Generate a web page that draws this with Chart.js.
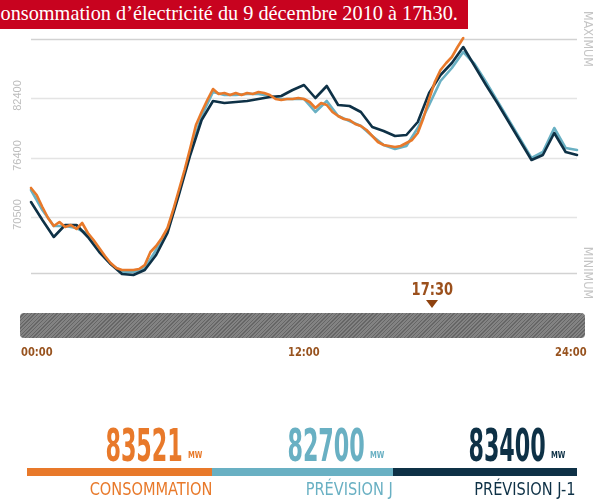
<!DOCTYPE html>
<html>
<head>
<meta charset="utf-8">
<script src="https://cdn.jsdelivr.net/npm/chart.js@4.4.0/dist/chart.umd.min.js"></script>
<style>
  body { margin: 0; width: 595px; height: 501px; overflow: hidden; background: #fff; position: relative; }
  #chart { position: absolute; left: 0; top: 0; }
  .titre { position: absolute; left: 0; top: 0; width: 468px; height: 29px; background: #c8031f; overflow: hidden; }
  .titre span { position: absolute; left: -13px; top: 2px; font: 20.3px "Liberation Serif", serif; color: #fff; white-space: nowrap; }
  .cond { font-family: "Liberation Sans Narrow", "DejaVu Sans Condensed", sans-serif; }
  .repere { position: absolute; left: 408px; top: 279px; width: 48px; text-align: center; font-weight: bold; font-size: 17px; color: #9b501c; transform: scaleX(0.85); }
  .fleche { position: absolute; left: 426px; top: 300px; width: 0; height: 0; border-left: 6px solid transparent; border-right: 6px solid transparent; border-top: 8px solid #8e420f; }
  .barre { position: absolute; left: 20px; top: 313px; width: 565px; height: 25px; border-radius: 4px;
           background: repeating-linear-gradient(135deg, #666 0 1px, #838383 1px 2.6px); }
  .heure { position: absolute; top: 345px; font-weight: bold; font-size: 12px; color: #98531f; transform: scaleX(0.92); transform-origin: left top; }
  .val { position: absolute; top: 423px; font-weight: bold; font-size: 45px; line-height: 45px; transform: scaleX(0.55); transform-origin: right top; white-space: nowrap; }
  .mw { position: absolute; top: 451px; font-weight: bold; font-size: 9px; line-height: 9px; transform: scaleX(0.85); transform-origin: left top; }
  .trait { position: absolute; top: 468px; height: 8px; }
  .lib { position: absolute; top: 480px; font-size: 18px; line-height: 18px; transform: scaleX(0.9); transform-origin: right top; white-space: nowrap; }
</style>
</head>
<body>
<canvas id="chart" width="595" height="501"></canvas>
<div class="titre"><span>Consommation d’électricité du 9 décembre 2010 à 17h30.</span></div>
<div class="repere cond">17:30</div>
<div class="fleche"></div>
<div class="barre"></div>
<div class="heure cond" style="left:21px">00:00</div>
<div class="heure cond" style="left:288px">12:00</div>
<div class="heure cond" style="left:555px">24:00</div>

<div class="val cond" style="right:412px;color:#e8792a">83521</div>
<div class="mw cond" style="left:188px;color:#e8792a">MW</div>
<div class="val cond" style="right:230px;color:#69b0c3">82700</div>
<div class="mw cond" style="left:370px;color:#69b0c3">MW</div>
<div class="val cond" style="right:49px;color:#0e3146">83400</div>
<div class="mw cond" style="left:551px;color:#0e3146">MW</div>
<div class="trait" style="left:27px;width:185px;background:#e8792a"></div>
<div class="trait" style="left:212px;width:181px;background:#69b0c3"></div>
<div class="trait" style="left:393px;width:184px;background:#0e3146"></div>
<div class="lib cond" style="right:383px;color:#e8792a">CONSOMMATION</div>
<div class="lib cond" style="right:202px;color:#69b0c3">PRÉVISION J</div>
<div class="lib cond" style="right:20px;color:#0e3146">PRÉVISION J-1</div>

<script>
// heures (0 = 00:00) des prévisions, pas de 30 min
const heuresPrev = [0, 0.5, 1, 1.5, 2, 2.5, 3, 3.5, 4, 4.5, 5, 5.5, 6, 6.5, 7, 7.5, 8, 8.5, 9, 9.5,
  10, 10.5, 11, 11.5, 12, 12.5, 13, 13.5, 14, 14.5, 15, 15.5, 16, 16.5, 17, 17.5, 18, 18.5, 19, 19.5,
  20, 20.5, 21, 21.5, 22, 22.5, 23, 23.5, 24];

// Prévision J-1 (MW)
const prevJ1 = [72000, 70200, 68500, 69700, 69700, 68500, 67000, 65800, 64800, 64700,
  65200, 66700, 68900, 72700, 76700, 80200, 82100, 81900, 82000, 82100,
  82300, 82500, 82600, 83200, 83700, 82400, 83600, 81700, 81600, 81000,
  79500, 79100, 78600, 78700, 80000, 82900, 84700, 85900, 87500, 85600,
  83700, 81900, 80000, 78100, 76200, 76700, 78900, 77000, 76700];

// Prévision J (MW)
const prevJ = [73200, 71200, 69600, 69600, 69400, 68800, 67200, 65800, 65000, 65000,
  65400, 67200, 69200, 72900, 77000, 80600, 83000, 82700, 82700, 82800,
  82800, 82600, 82300, 82300, 82300, 81000, 82100, 80600, 80100, 79600,
  78600, 77700, 77300, 77600, 79400, 81700, 84100, 85400, 87000, 85800,
  84000, 82100, 80200, 78300, 76400, 77000, 79400, 77400, 77200];

// Consommation réalisée, pas de 15 min
const heuresConso = [0, 0.25, 0.5, 0.75, 1, 1.25, 1.5, 1.75, 2, 2.25, 2.5, 2.75, 3, 3.25, 3.5, 3.75,
  4, 4.25, 4.5, 4.75, 5, 5.25, 5.5, 5.75, 6, 6.25, 6.5, 6.75, 7, 7.25, 7.5, 7.75,
  8, 8.25, 8.5, 8.75, 9, 9.25, 9.5, 9.75, 10, 10.25, 10.5, 10.75, 11, 11.25, 11.5, 11.75,
  12, 12.25, 12.5, 12.75, 13, 13.25, 13.5, 13.75, 14, 14.25, 14.5, 14.75, 15, 15.25, 15.5, 15.75,
  16, 16.25, 16.5, 16.75, 17, 17.25, 17.5, 17.75, 18, 18.25, 18.5, 18.75, 19];
const conso = [73400, 72700, 71500, 70400, 69600, 70000, 69500, 69700, 69300, 69900, 68900, 68200, 67400, 66600, 65900, 65400,
  65200, 65200, 65200, 65300, 65700, 67000, 67600, 68400, 69400, 71200, 73200, 75200, 77400, 79700, 81000, 82200,
  83300, 82800, 82900, 82700, 82900, 82700, 82900, 82800, 83000, 82900, 82700, 82300, 82200, 82300, 82300, 82400,
  82300, 82000, 81400, 81900, 81700, 81000, 80600, 80300, 80200, 79800, 79600, 79200, 78600, 78000, 77700, 77600,
  77500, 77600, 77900, 78200, 78900, 80400, 82300, 84000, 85200, 85900, 86500, 87500, 88400];

// lignes de grille et étiquettes de l'axe vertical
const grilleY = [88300, 82400, 76400, 70500, 64900];
const etiquettesY = ['', '82400', '76400', '70500', ''];

function points(xs, ys) {
  return xs.map((x, i) => ({ x: x, y: ys[i] }));
}

const grillePlugin = {
  id: 'grille',
  beforeDatasetsDraw(chart) {
    const ctx = chart.ctx;
    const area = chart.chartArea;
    const y = chart.scales.y;
    ctx.save();
    grilleY.forEach((v, i) => {
      const py = Math.round(y.getPixelForValue(v)) + 0.5;
      ctx.strokeStyle = (i === 0 || i === grilleY.length - 1) ? '#d2d2d2' : '#e4e4e4';
      ctx.lineWidth = 1.5;
      ctx.beginPath();
      ctx.moveTo(area.left, py);
      ctx.lineTo(area.right, py);
      ctx.stroke();
      if (etiquettesY[i]) {
        ctx.save();
        ctx.translate(18, py - 3);
        ctx.rotate(-Math.PI / 2);
        ctx.font = '11px "Liberation Sans", sans-serif';
        ctx.fillStyle = '#bdbdbd';
        ctx.textAlign = 'center';
        ctx.textBaseline = 'middle';
        ctx.fillText(etiquettesY[i], 0, 0);
        ctx.restore();
      }
    });
    // MAXIMUM / MINIMUM à droite
    [['MAXIMUM', grilleY[0]], ['MINIMUM', grilleY[grilleY.length - 1]]].forEach(([txt, v]) => {
      ctx.save();
      ctx.translate(587, y.getPixelForValue(v));
      ctx.rotate(Math.PI / 2);
      ctx.font = '12.5px "Liberation Sans Narrow", "DejaVu Sans Condensed", sans-serif';
      ctx.fillStyle = '#c4c4c4';
      ctx.textAlign = 'center';
      ctx.textBaseline = 'middle';
      ctx.fillText(txt, 0, 0);
      ctx.restore();
    });
    ctx.restore();
  }
};

const ctx = document.getElementById('chart').getContext('2d');
const chart = new Chart(ctx, {
  type: 'line',
  data: {
    datasets: [
      { label: 'Consommation', data: points(heuresConso, conso), borderColor: '#e8792a', order: 0 },
      { label: 'Prévision J-1', data: points(heuresPrev, prevJ1), borderColor: '#0e3146', order: 1 },
      { label: 'Prévision J', data: points(heuresPrev, prevJ), borderColor: '#69b0c3', order: 2 }
    ]
  },
  options: {
    responsive: false,
    animation: false,
    layout: { padding: { left: 31, right: 18, top: 39, bottom: 228 } },
    elements: {
      point: { radius: 0 },
      line: { borderWidth: 2.6, tension: 0, fill: false, borderJoinStyle: 'round', borderCapStyle: 'round' }
    },
    datasets: { line: { clip: false } },
    scales: {
      x: { type: 'linear', min: 0, max: 24, display: false },
      y: { min: 64900, max: 88300, display: false }
    },
    plugins: { legend: { display: false }, tooltip: { enabled: false } }
  },
  plugins: [grillePlugin]
});
</script>
</body>
</html>
